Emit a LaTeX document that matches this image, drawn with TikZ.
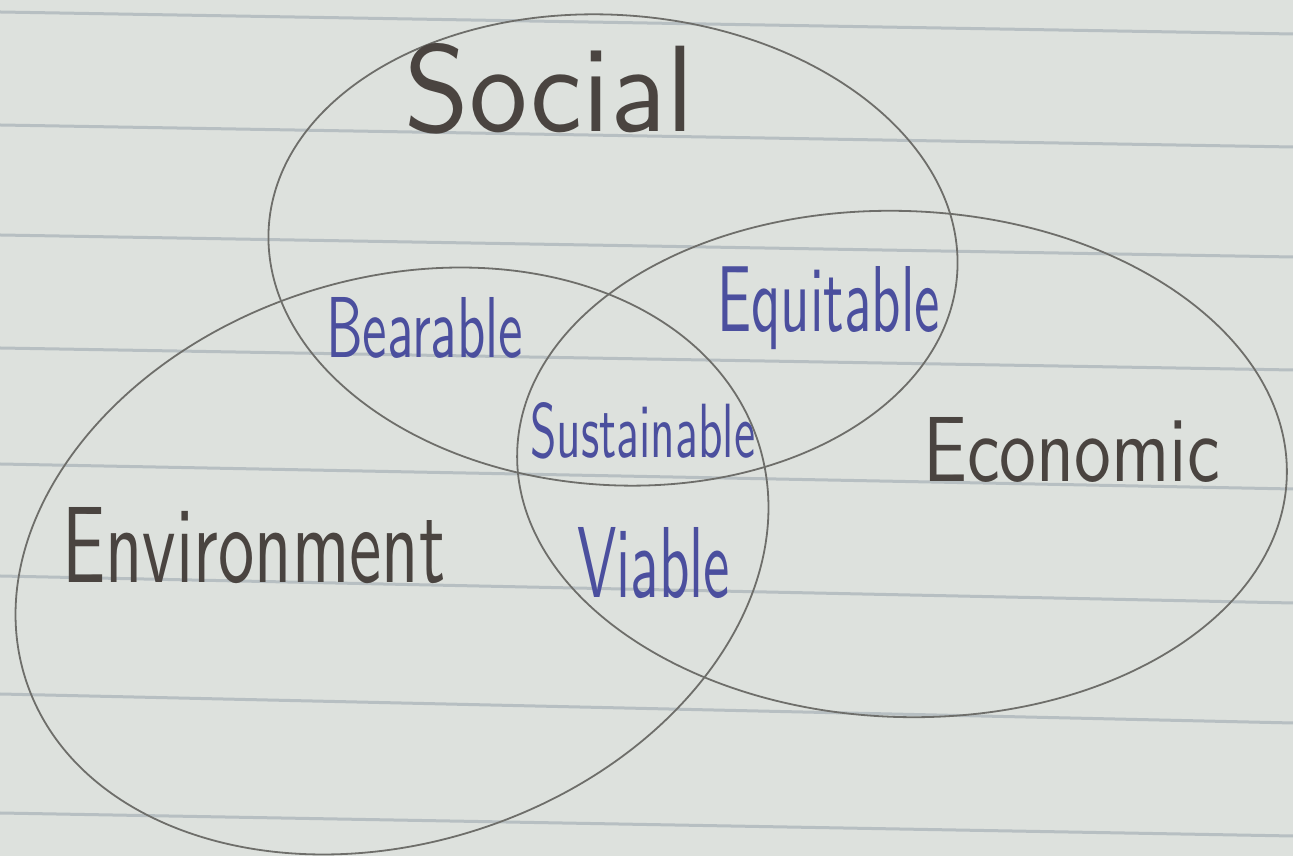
\documentclass[tikz,border=0pt]{standalone}
\usepackage{fontspec}
\usepackage{graphicx}
\definecolor{paper}{HTML}{DDE1DD}
\definecolor{ruleline}{HTML}{B7BFC2}
\definecolor{pencil}{HTML}{6E6E6A}
\definecolor{graphite}{HTML}{4A4440}
\definecolor{ink}{HTML}{4B4F9E}
\begin{document}
\begin{tikzpicture}[x=1pt,y=1pt,
  rule/.style={draw=ruleline, line width=3pt},
  ring/.style={draw=pencil, line width=1.8pt},
  outer/.style={text=graphite, inner sep=0pt, anchor=base west, font=\sffamily},
  inner/.style={text=ink, inner sep=0pt, anchor=base west, font=\sffamily}]
\fill[paper] (0,0) rectangle (1293,856);
\useasboundingbox (0,0) rectangle (1293,856);
\clip (0,0) rectangle (1293,856);
% ruled lines
\foreach \yl/\yr in {12/34,125/147,235/257,348/370,464/489,576/603,694/723,813/836}{
  \draw[rule] (0,856-\yl) -- (1293,856-\yr);
}
% circles
\draw[ring, rotate around={-4:(613,606)}] (613,606) ellipse [x radius=345pt, y radius=235pt];
\draw[ring, rotate around={-2:(902,392)}] (902,392) ellipse [x radius=385pt, y radius=253pt];
\draw[ring, rotate around={18:(392,295)}] (392,295) ellipse [x radius=385pt, y radius=282pt];
% labels
\node[outer] (social) at (404,724) {\resizebox{290pt}{88pt}{Social}};
\node[outer] (economic) at (923,374) {\resizebox{297pt}{64pt}{Economic}};
\node[outer] (environment) at (62,273) {\resizebox{383pt}{75pt}{Environment}};
\node[inner] (bearable) at (326,498) {\resizebox{197pt}{60pt}{Bearable}};
\node[inner] (equitable) at (717,524) {\resizebox{223pt}{65pt}{Equitable}};
\node[inner] (sustainable) at (530,398) {\resizebox{225pt}{55pt}{Sustainable}};
\node[inner] (viable) at (577,258) {\resizebox{153pt}{70pt}{Viable}};
\end{tikzpicture}
\end{document}
